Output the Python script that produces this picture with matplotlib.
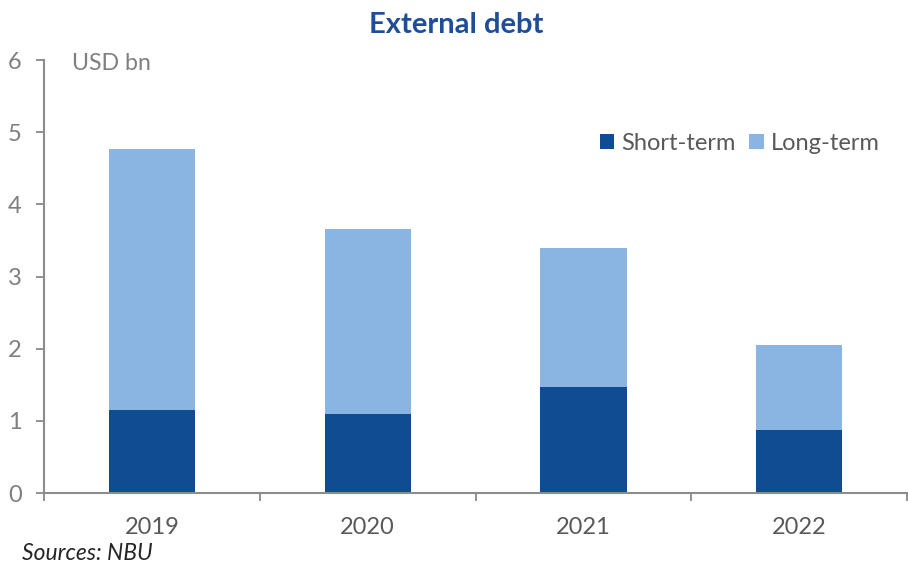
import matplotlib
matplotlib.use("Agg")
import matplotlib.pyplot as plt
import numpy as np

# Data (USD bn)
years = ["2019", "2020", "2021", "2022"]
short_term = [1.15, 1.09, 1.47, 0.87]
long_term = [3.61, 2.57, 1.92, 1.18]

C_DARK = "#104C91"
C_LIGHT = "#8AB4E2"
C_GRAY = "#7F7F7F"
C_TITLE = "#1F4E99"

plt.rcParams["font.family"] = ["Lato", "DejaVu Sans"]

fig = plt.figure(figsize=(9.08, 5.65), dpi=100, facecolor="white")
ax = fig.add_axes([0.0485, 0.1274, 0.9505, 0.7664])

x = np.arange(len(years))
ax.bar(x, short_term, width=0.4, color=C_DARK, label="Short-term", zorder=2)
ax.bar(x, long_term, width=0.4, bottom=short_term, color=C_LIGHT, label="Long-term", zorder=2)

ax.set_xlim(-0.5, len(years) - 0.5)
ax.set_ylim(0, 6)
ax.set_yticks(range(0, 7))

ax.set_xticks(x)
ax.set_xticklabels(years)
ax.set_xticks(np.arange(-0.5, len(years), 1.0), minor=True)
ax.tick_params(axis="x", which="major", length=0, pad=17, labelsize=17, labelcolor="#595959")
ax.tick_params(axis="x", which="minor", length=6, width=1.2, color=C_GRAY, direction="out")
ax.tick_params(axis="y", length=6, width=1.2, color=C_GRAY, direction="out", pad=10,
               labelsize=17, labelcolor=C_GRAY)

for s in ["top", "right"]:
    ax.spines[s].set_visible(False)
for s in ["left", "bottom"]:
    ax.spines[s].set_color("#8C8C8C")
    ax.spines[s].set_linewidth(1.5)

ax.text(0.032, 0.992, "USD bn", transform=ax.transAxes, fontsize=16.7, color=C_GRAY,
        ha="left", va="center")

ax.legend(loc="center left", bbox_to_anchor=(0.63, 0.807), ncol=2, frameon=False,
          fontsize=17, labelcolor="#595959", handlelength=0.6, handleheight=0.6,
          handletextpad=0.3, columnspacing=0.6, borderpad=0)

fig.text(0.502, 0.955, "External debt", fontsize=21, fontweight="bold", color=C_TITLE,
         ha="center", va="center")
fig.text(0.024, 0.021, "Sources: NBU", fontsize=16.5, style="italic", color="#262626",
         ha="left", va="center")

fig.savefig("out.png", dpi=100, facecolor="white")
